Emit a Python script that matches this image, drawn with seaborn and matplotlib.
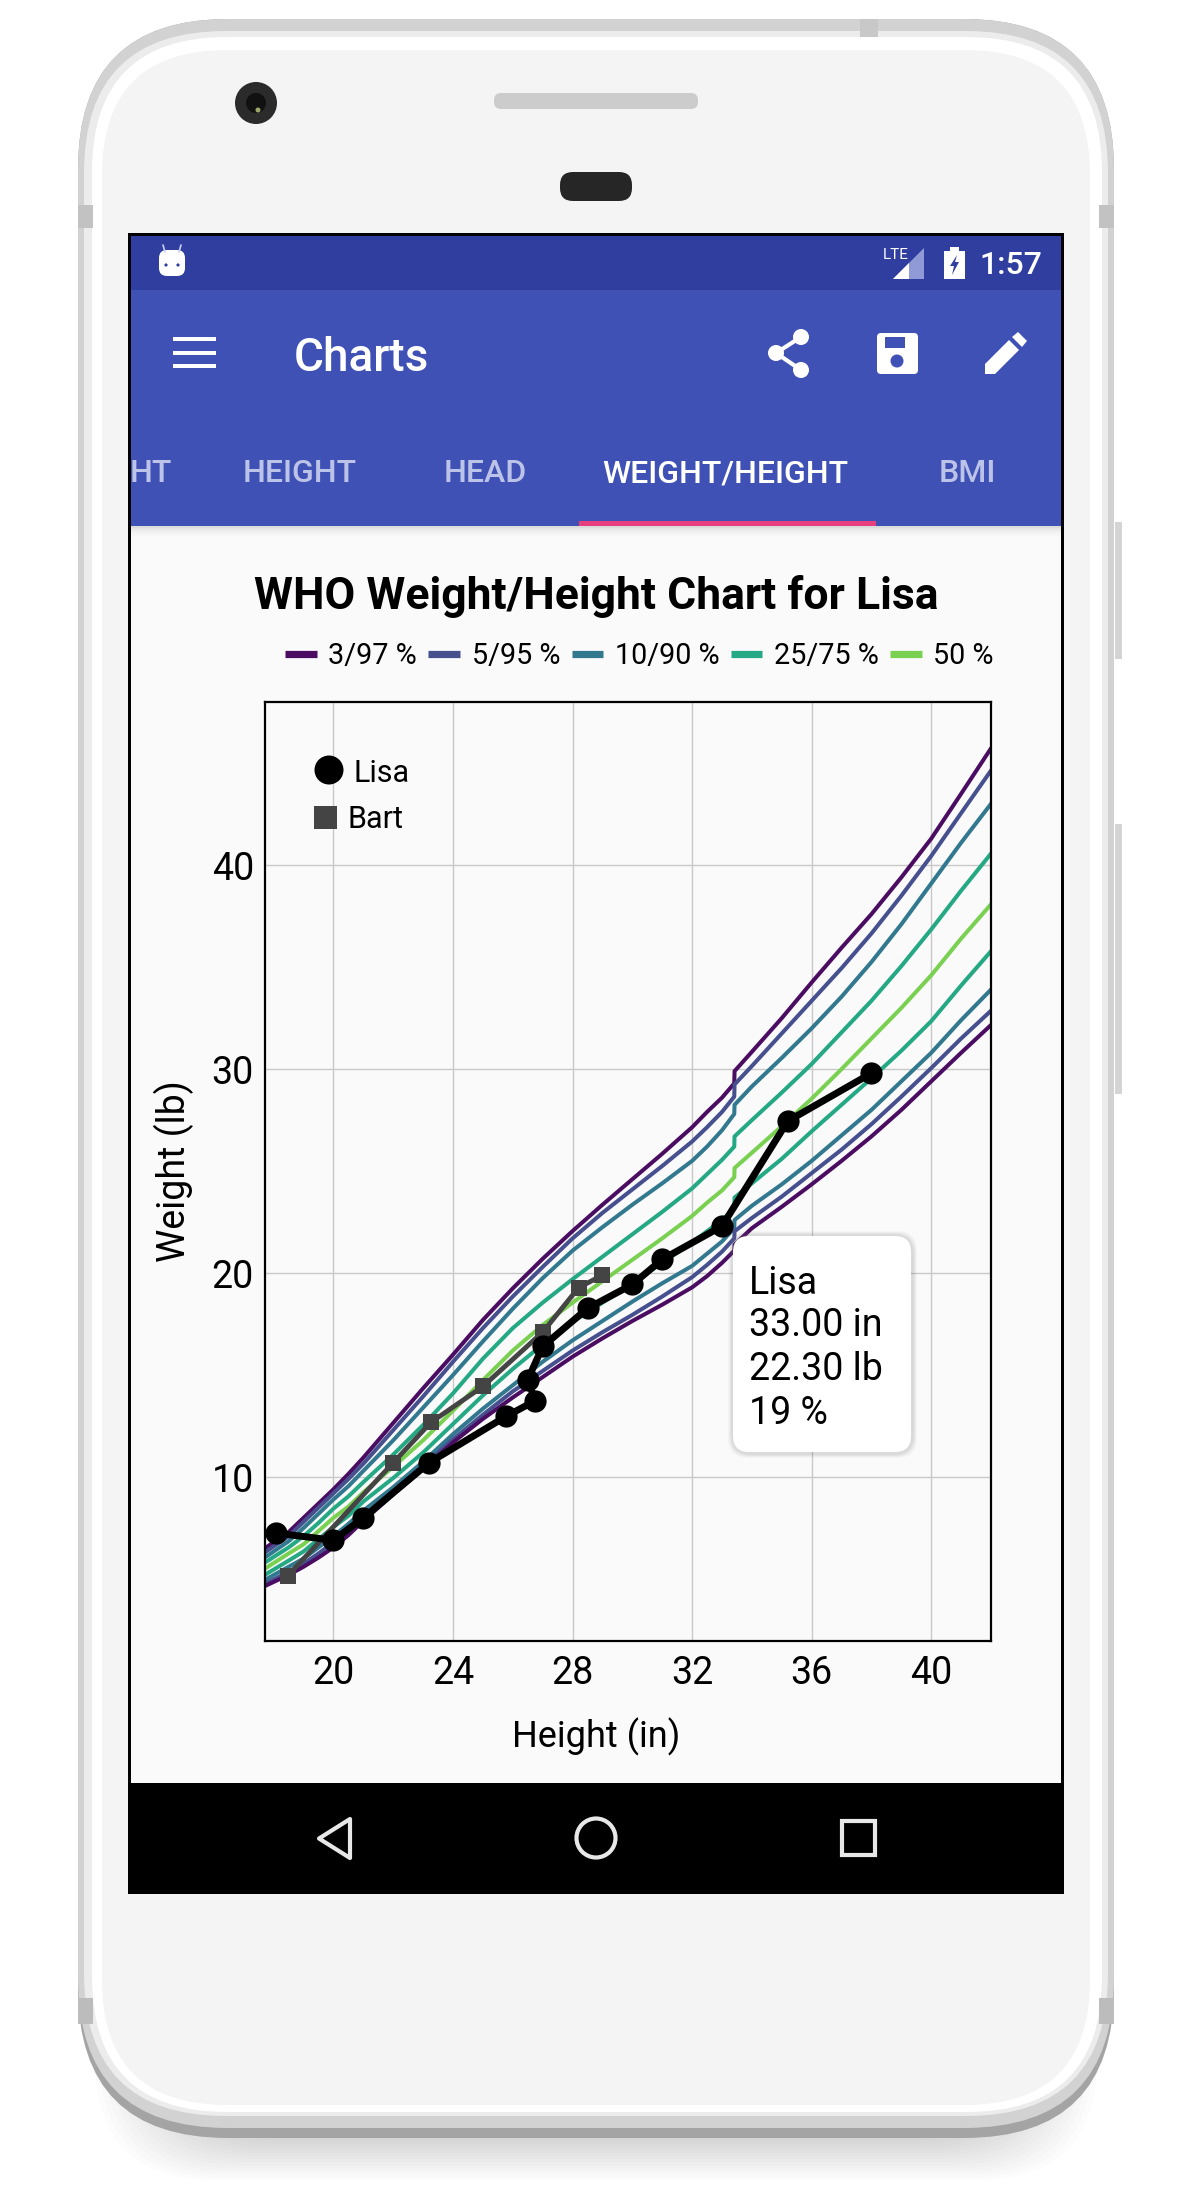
import numpy as np
import pandas as pd
import seaborn as sns
import matplotlib
matplotlib.use("Agg")
import matplotlib.pyplot as plt
from matplotlib.lines import Line2D
from matplotlib.patches import FancyBboxPatch, Rectangle, Circle, Polygon

# percentile curves (inches -> pounds)
height_in = [17.7, 18.5, 19, 19.5, 20, 20.5, 21, 22, 23, 24, 25, 26, 27, 28, 29, 30, 31, 32, 32.5, 33, 33.41, 33.42,
             34, 35, 36, 37, 38, 39, 40, 41, 42.1]
p97 = [6.5, 7.3, 8.0, 8.7, 9.4, 10.15, 10.95, 12.65, 14.35, 16.0, 17.7, 19.25, 20.7, 22.06, 23.35, 24.6, 25.85, 27.15, 27.9, 28.6, 29.3, 29.9, 30.85, 32.5, 34.25, 35.95, 37.6, 39.4, 41.3, 43.5, 45.95]
p95 = [6.3, 7.1, 7.8, 8.5, 9.2, 9.9, 10.65, 12.3, 13.95, 15.65, 17.3, 18.85, 20.3, 21.7, 22.95, 24.1, 25.25, 26.45, 27.15, 27.9, 28.65, 29.25, 30.15, 31.75, 33.35, 34.95, 36.65, 38.5, 40.45, 42.55, 44.85]
p90 = [6.05, 6.85, 7.5, 8.2, 8.9, 9.55, 10.3, 11.8, 13.4, 15.0, 16.65, 18.25, 19.75, 21.1, 22.25, 23.35, 24.4, 25.5, 26.2, 27.0, 27.8, 28.25, 29.15, 30.55, 32.0, 33.55, 35.25, 37.1, 39.1, 41.1, 43.2]
p75 = [5.8, 6.55, 7.1, 7.75, 8.45, 9.05, 9.75, 11.1, 12.55, 14.1, 15.8, 17.3, 18.55, 19.7, 20.8, 21.9, 23.0, 24.15, 24.85, 25.55, 26.2, 26.7, 27.5, 28.85, 30.25, 31.8, 33.35, 35.05, 36.85, 38.75, 40.75]
p50 = [5.5, 6.25, 6.7, 7.35, 8.0, 8.55, 9.25, 10.5, 11.8, 13.25, 14.75, 16.2, 17.45, 18.55, 19.6, 20.65, 21.7, 22.8, 23.45, 24.05, 24.7, 25.15, 25.9, 27.2, 28.55, 30.0, 31.5, 33.0, 34.6, 36.4, 38.25]
p25 = [5.2, 5.9, 6.35, 6.95, 7.55, 8.1, 8.8, 9.95, 11.2, 12.6, 14.0, 15.3, 16.5, 17.6, 18.55, 19.5, 20.5, 21.5, 22.05, 22.6, 23.15, 23.7, 24.4, 25.6, 26.95, 28.25, 29.55, 30.9, 32.35, 34.1, 35.95]
p10 = [4.95, 5.6, 6.0, 6.55, 7.1, 7.7, 8.35, 9.5, 10.75, 12.1, 13.35, 14.5, 15.65, 16.7, 17.65, 18.6, 19.5, 20.35, 20.95, 21.55, 22.2, 22.6, 23.3, 24.35, 25.5, 26.75, 28.0, 29.4, 30.8, 32.4, 34.05]
p5 = [4.75, 5.35, 5.75, 6.25, 6.8, 7.4, 8.05, 9.3, 10.55, 11.85, 13.05, 14.2, 15.2, 16.2, 17.1, 17.95, 18.85, 19.8, 20.4, 21.05, 21.7, 22.05, 22.7, 23.75, 24.9, 26.05, 27.3, 28.65, 30.05, 31.5, 33.0]
p3 = [4.65, 5.2, 5.6, 6.05, 6.55, 7.15, 7.85, 9.15, 10.4, 11.7, 12.85, 13.9, 14.9, 15.9, 16.8, 17.65, 18.45, 19.3, 19.85, 20.5, 21.1, 21.4, 22.2, 23.25, 24.35, 25.5, 26.7, 28.0, 29.4, 30.8, 32.3]

lisa_h = [18.09, 20, 21, 23.2, 25.77, 26.75, 26.5, 27, 28.5, 30, 31, 33, 35.2, 38]
lisa_w = [7.25, 6.9, 8.0, 10.7, 12.97, 13.74, 14.77, 16.4, 18.27, 19.44, 20.67, 22.3, 27.45, 29.8]
bart_h = [18.47, 22, 23.26, 25, 27, 28.2, 29]
bart_w = [5.16, 10.7, 12.68, 14.44, 17.1, 19.28, 19.9]

band_names = ["3/97 %", "5/95 %", "10/90 %", "25/75 %", "50 %"]
band_colors = ["#4a0d62", "#47508f", "#32798f", "#25a884", "#7ad151"]
tab_names = ["HT", "HEIGHT", "HEAD", "WEIGHT/HEIGHT", "BMI"]
x_ticks = [20, 24, 28, 32, 36, 40]
y_ticks = [10, 20, 30, 40]
tooltip_lines = ["Lisa", "33.00 in", "22.30 lb", "19 %"]

curves = {"p97": (p97, 0), "p95": (p95, 1), "p90": (p90, 2), "p75": (p75, 3), "p50": (p50, 4),
          "p25": (p25, 3), "p10": (p10, 2), "p5": (p5, 1), "p3": (p3, 0)}
rows = []
for name, (vals, idx) in curves.items():
    rows.append(pd.DataFrame({"h": height_in, "w": vals, "curve": name}))
df = pd.concat(rows)
pal = {name: band_colors[idx] for name, (vals, idx) in curves.items()}

sns.set_theme(style="white")
plt.rcParams["font.family"] = ["Roboto", "DejaVu Sans"]

fig = plt.figure(figsize=(12, 22), dpi=100, facecolor="white")


def pixel_axes(z):
    a = fig.add_axes([0, 0, 1, 1], zorder=z)
    a.set_xlim(0, 1200)
    a.set_ylim(2200, 0)
    a.axis("off")
    return a


def box(a, x0, y0, x1, y1, r, color, **kw):
    a.add_patch(FancyBboxPatch((x0, y0), x1 - x0, y1 - y0, boxstyle=f"round,pad=0,rounding_size={r}",
                               fc=color, ec="none", **kw))


back = pixel_axes(0)

# phone body, shadow first
for i in range(14):
    box(back, 95 + i * 5, 1960, 1097 - i * 5, 2180 - i * 3, 120, "#444444", alpha=0.014)
box(back, 78, 19, 1114, 2138, 150, "#a4a4a4")
box(back, 78, 19, 1114, 2128, 150, "#d2d2d2")
box(back, 84, 31, 1108, 2116, 142, "#ececec")
box(back, 92, 37, 1102, 2112, 135, "#ffffff")
box(back, 102, 50, 1090, 2105, 125, "#f4f4f4")
# metal bands and side buttons
for x0, x1 in [(78, 93), (1099, 1114)]:
    back.add_patch(Rectangle((x0, 205), x1 - x0, 23, fc="#c2c2c2", ec="none"))
    back.add_patch(Rectangle((x0, 1998), x1 - x0, 26, fc="#bcbcbc", ec="none"))
back.add_patch(Rectangle((860, 19), 18, 18, fc="#c8c8c8", ec="none"))
back.add_patch(Rectangle((1115, 522), 7, 137, fc="#d4d4d4", ec="none"))
back.add_patch(Rectangle((1115, 824), 7, 270, fc="#d4d4d4", ec="none"))

# camera, speaker, sensor
back.add_patch(Circle((256, 103), 21, fc="#2b2b2b", ec="none"))
back.add_patch(Circle((256, 103), 10, fc="#111111", ec="none"))
back.add_patch(Circle((258, 110), 2.5, fc="#9aa56a", ec="none"))
box(back, 494, 93, 698, 109, 7, "#cccccc")
box(back, 560, 172, 632, 201, 13, "#262626")

# screen
back.add_patch(Rectangle((128, 233), 936, 1661, fc="#000000", ec="none"))
back.add_patch(Rectangle((131, 236), 930, 54, fc="#303f9f", ec="none"))
back.add_patch(Rectangle((131, 290), 930, 236, fc="#3f51b5", ec="none"))
back.add_patch(Rectangle((131, 526), 930, 1257, fc="#fafafa", ec="none"))
for i, c in enumerate(["#dcdcdc", "#e6e6e6", "#eeeeee", "#f3f3f3", "#f7f7f7"]):
    back.add_patch(Rectangle((131, 526 + i * 2), 930, 2, fc=c, ec="none"))
back.add_patch(Rectangle((579, 521), 297, 5, fc="#e8407f", ec="none"))

# status bar
box(back, 159, 250, 185, 276, 8, "#ffffff")
back.plot([165, 163], [252, 245], color="#c9cff0", lw=1.2)
back.plot([179, 181], [252, 245], color="#c9cff0", lw=1.2)
back.add_patch(Circle((166, 265), 1.6, fc="#303f9f", ec="none"))
back.add_patch(Circle((178, 265), 1.6, fc="#303f9f", ec="none"))
back.add_patch(Polygon([(893, 279), (924, 248), (924, 279)], fc="#8f9ad6", ec="none"))
back.add_patch(Polygon([(893, 279), (909, 263), (909, 279)], fc="#ffffff", ec="none"))
back.text(883, 255, "LTE", color="white", fontsize=11, va="center", ha="left", stretch="condensed")
back.add_patch(Rectangle((944, 251), 21, 28, fc="#ffffff", ec="none"))
back.add_patch(Rectangle((950, 247), 9, 5, fc="#ffffff", ec="none"))
back.add_patch(Polygon([(957, 255), (950, 266), (954, 266), (952, 275), (959, 262), (955, 262)], fc="#303f9f", ec="none"))
back.text(979, 265, "1:57", color="white", fontsize=23, fontweight="medium", va="center", ha="left")

# app bar
for y in [339, 353, 366]:
    back.add_patch(Rectangle((173, y - 2), 43, 4, fc="#ffffff", ec="none"))
back.text(294, 358, "Charts", color="white", fontsize=33, fontweight="medium", va="center", ha="left")
back.plot([801, 776, 801], [337, 353, 370], color="white", lw=3)
for cx, cy in [(801, 337), (776, 353), (801, 370)]:
    back.add_patch(Circle((cx, cy), 8, fc="white", ec="none"))
box(back, 877, 333, 918, 374, 4, "#ffffff")
back.add_patch(Rectangle((885, 337), 20, 11, fc="#3f51b5", ec="none"))
back.add_patch(Circle((897, 361), 6.5, fc="#3f51b5", ec="none"))
back.add_patch(Polygon([(985, 374), (985, 364), (1009, 340), (1019, 350), (995, 374)], fc="white", ec="none"))
back.add_patch(Polygon([(1012, 337), (1018, 332), (1027, 341), (1022, 347)], fc="white", ec="none"))

# tabs
tab_x = [151, 299.5, 485, 725.5, 967]
for name, x in zip(tab_names, tab_x):
    col = "#ffffff" if name == "WEIGHT/HEIGHT" else "#bcc3e8"
    back.text(x, 474, name, color=col, fontsize=23, fontweight="medium", va="center", ha="center",
              clip_on=True, clip_path=Rectangle((131, 440), 930, 60, transform=back.transData))

# nav bar
back.add_patch(Polygon([(350, 1819), (319, 1838.5), (350, 1858)], fc="none", ec="#e8e8e8", lw=3, joinstyle="round"))
back.add_patch(Circle((596, 1838), 19.5, fc="none", ec="#e8e8e8", lw=3))
back.add_patch(Rectangle((842, 1821), 33, 34, fc="none", ec="#e8e8e8", lw=3))

back.text(596, 596, "WHO Weight/Height Chart for Lisa", color="black", fontsize=32, fontweight="bold",
          va="center", ha="center")
back.text(596, 1737, "Height (in)", color="black", fontsize=26, va="center", ha="center")
back.text(174, 1171, "Weight (lb)", color="black", fontsize=27, va="center", ha="center", rotation=90)

# chart
ax = fig.add_axes([265 / 1200, 1 - 1641 / 2200, 726 / 1200, 939 / 2200], zorder=1, facecolor="#fafafa")
sns.lineplot(data=df, x="h", y="w", hue="curve", palette=pal, estimator=None, sort=False,
             linewidth=2.9, legend=False, ax=ax)
sns.lineplot(x=bart_h, y=bart_w, sort=False, estimator=None, color="#444444", linewidth=3.5, marker="s",
             markersize=12, markeredgewidth=0, ax=ax)
sns.lineplot(x=lisa_h, y=lisa_w, sort=False, estimator=None, color="black", linewidth=5, marker="o",
             markersize=16, markeredgewidth=0, ax=ax)
ax.set_xlim(17.71, 42.0)
ax.set_ylim(1.96, 48)
ax.set_xticks(x_ticks)
ax.set_yticks(y_ticks)
ax.set_xlabel("")
ax.set_ylabel("")
ax.grid(True, color="#c8c8c8", linewidth=1)
ax.set_axisbelow(True)
ax.tick_params(axis="both", length=0, labelsize=27, colors="black")
ax.tick_params(axis="x", pad=10)
ax.tick_params(axis="y", pad=8)
for t in ax.get_yticklabels():
    t.set_va("center_baseline")
for s in ax.spines.values():
    s.set_visible(True)
    s.set_color("black")
    s.set_linewidth(1.6)

handles = [Line2D([], [], color=c, lw=5.2, solid_capstyle="butt") for c in band_colors]
fig.legend(handles, band_names, ncol=5, loc="center left", bbox_to_anchor=(285 / 1200, 1 - 656 / 2200),
           frameon=False, fontsize=20.7, handlelength=1.1, handletextpad=0.4, columnspacing=0.4,
           labelcolor="black", borderpad=0, borderaxespad=0)

# overlay: series key and tooltip
top = pixel_axes(2)
top.patch.set_alpha(0)
top.add_patch(Circle((329, 770), 14.5, fc="black", ec="none"))
top.text(354, 773, "Lisa", color="black", fontsize=22, va="center", ha="left")
top.add_patch(Rectangle((314, 806), 23, 23, fc="#444444", ec="none"))
top.text(347, 820, "Bart", color="black", fontsize=22, va="center", ha="left")

for i, al in enumerate([0.04, 0.05, 0.07, 0.09]):
    box(top, 733 - 5 + i, 1236 - 5 + i, 911 + 6 - i, 1452 + 6 - i, 20, "#777777", alpha=al)
box(top, 733, 1236, 911, 1452, 16, "#ffffff")
for line, y in zip(tooltip_lines, [1283, 1326, 1370, 1413]):
    top.text(749, y, line, color="black", fontsize=27, va="center", ha="left")

fig.savefig("out.png", dpi=100, facecolor="white")
